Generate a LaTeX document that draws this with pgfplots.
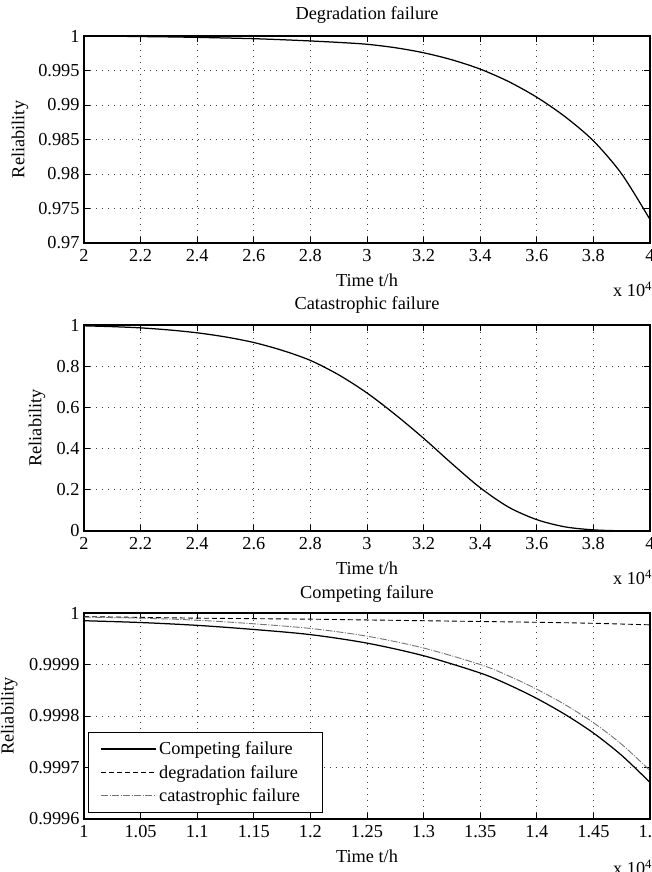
\documentclass[border=0pt]{standalone}
\usepackage{fontspec}
\setmainfont{Liberation Serif}
\usepackage{pgfplots}
\pgfplotsset{compat=1.18}

\pgfplotsset{
  mystyle/.style={
    scale only axis,
    width=566pt, height=207pt,
    anchor=south west,
    font=\fontsize{18.3}{21}\selectfont,
    axis line style={line width=1.1pt},
    tick style={line width=0.9pt, black},
    major tick length=6pt,
    grid=major,
    major grid style={line width=0.9pt, black!75, dash pattern=on 1pt off 5pt},
    xticklabel style={yshift=-3pt},
    yticklabel style={xshift=-1pt},
    xlabel={Time t/h},
    ylabel={Reliability},
    xlabel style={anchor=center, at={(axis description cs:0.5,-0.18)}},
    every axis plot/.append style={line width=1.25pt, black},
    clip mode=individual,
  }
}

\begin{document}
\begin{tikzpicture}
\useasboundingbox (0pt,0pt) rectangle (652pt,872pt);

% ---------- Degradation failure ----------
\begin{axis}[mystyle,
  at={(84pt,629pt)},
  ylabel style={anchor=center, at={(axis description cs:-0.113,0.5)}},
  xmin=2, xmax=4, ymin=0.97, ymax=1,
  xtick={2,2.2,2.4,2.6,2.8,3,3.2,3.4,3.6,3.8,4},
  xticklabels={2,2.2,2.4,2.6,2.8,3,3.2,3.4,3.6,3.8,4},
  ytick={0.97,0.975,0.98,0.985,0.99,0.995,1},
  yticklabels={0.97,0.975,0.98,0.985,0.99,0.995,1},
]
\addplot[smooth] coordinates {
 (2.0,1.00000) (2.1,0.99997) (2.2,0.99992) (2.3,0.99987) (2.4,0.99980)
 (2.5,0.99971) (2.6,0.99961) (2.7,0.99946) (2.8,0.99928) (2.9,0.99907)
 (3.0,0.99880) (3.1,0.99830) (3.2,0.99757) (3.3,0.99655) (3.4,0.99520)
 (3.5,0.99340) (3.6,0.99112) (3.7,0.98830) (3.8,0.98480) (3.9,0.98000)
 (4.0,0.97340)
};
\node[anchor=center] at (axis description cs:0.5,1.101) {Degradation failure};
\node[anchor=east, inner sep=0pt] at (axis description cs:1.004,-0.225) {x 10\textsuperscript{4}};
\end{axis}

% ---------- Catastrophic failure ----------
\begin{axis}[mystyle,
  at={(84pt,341pt)},
  height=206pt,
  ylabel style={anchor=center, at={(axis description cs:-0.083,0.5)}},
  xmin=2, xmax=4, ymin=0, ymax=1,
  xtick={2,2.2,2.4,2.6,2.8,3,3.2,3.4,3.6,3.8,4},
  xticklabels={2,2.2,2.4,2.6,2.8,3,3.2,3.4,3.6,3.8,4},
  ytick={0,0.2,0.4,0.6,0.8,1},
  yticklabels={0,0.2,0.4,0.6,0.8,1},
]
\addplot[smooth] coordinates {
 (2.0,0.996) (2.1,0.992) (2.2,0.986) (2.3,0.976) (2.4,0.962)
 (2.5,0.942) (2.6,0.915) (2.7,0.877) (2.8,0.828) (2.9,0.758)
 (3.0,0.670) (3.1,0.565) (3.2,0.450) (3.3,0.327) (3.4,0.210)
 (3.5,0.116) (3.6,0.055) (3.7,0.020) (3.8,0.0055) (3.9,0.001)
 (4.0,0.0001)
};
\node[anchor=center] at (axis description cs:0.5,1.097) {Catastrophic failure};
\node[anchor=east, inner sep=0pt] at (axis description cs:1.004,-0.225) {x 10\textsuperscript{4}};
\end{axis}

% ---------- Competing failure ----------
\begin{axis}[mystyle,
  at={(84pt,53pt)},
  height=206pt,
  ylabel style={anchor=center, at={(axis description cs:-0.132,0.5)}},
  xmin=1, xmax=1.5, ymin=0.9996, ymax=1,
  xtick={1,1.05,1.1,1.15,1.2,1.25,1.3,1.35,1.4,1.45,1.5},
  xticklabels={1,1.05,1.1,1.15,1.2,1.25,1.3,1.35,1.4,1.45,1.5},
  ytick={0.9996,0.9997,0.9998,0.9999,1},
  yticklabels={0.9996,0.9997,0.9998,0.9999,1},
  legend cell align=left,
  legend style={at={(axis description cs:0.007,0.029)}, anchor=south west,
    draw=black, line width=0.9pt, inner xsep=12pt, inner ysep=7pt,
    font=\fontsize{18.3}{21}\selectfont, row sep=4pt,
    nodes={inner sep=2.5pt}},
  legend image code/.code={\draw[#1] (0pt,0pt) -- (55pt,0pt);},
]
\addplot[smooth] coordinates {
 (1.00,0.999985) (1.05,0.9999815) (1.10,0.999976) (1.15,0.999968)
 (1.20,0.999958) (1.25,0.9999415) (1.30,0.999917) (1.35,0.9998835)
 (1.375,0.9998608) (1.40,0.999834) (1.425,0.999803) (1.45,0.999767)
 (1.475,0.9997235) (1.50,0.999671)
};
\addlegendentry{Competing failure}
\addplot[smooth, line width=0.9pt, dash pattern=on 5pt off 3pt] coordinates {
 (1.00,0.999993) (1.05,0.9999915) (1.10,0.999990) (1.15,0.999989)
 (1.20,0.999988) (1.25,0.9999865) (1.30,0.999985) (1.35,0.9999835)
 (1.40,0.999982) (1.45,0.999980) (1.50,0.999977)
};
\addlegendentry{degradation failure}
\addplot[smooth, line width=0.9pt, black!55, dash pattern=on 7pt off 1.5pt on 1pt off 1.5pt] coordinates {
 (1.00,0.999992) (1.05,0.999990) (1.10,0.999986) (1.15,0.999979)
 (1.20,0.999970) (1.25,0.999955) (1.30,0.999932) (1.35,0.999900)
 (1.375,0.999878) (1.40,0.999852) (1.425,0.999822) (1.45,0.999787)
 (1.475,0.999745) (1.50,0.999694)
};
\addlegendentry{catastrophic failure\kern8pt\null}
\node[anchor=center] at (axis description cs:0.5,1.092) {Competing failure};
\node[anchor=east, inner sep=0pt] at (axis description cs:1.004,-0.235) {x 10\textsuperscript{4}};
\end{axis}
\end{tikzpicture}
\end{document}
